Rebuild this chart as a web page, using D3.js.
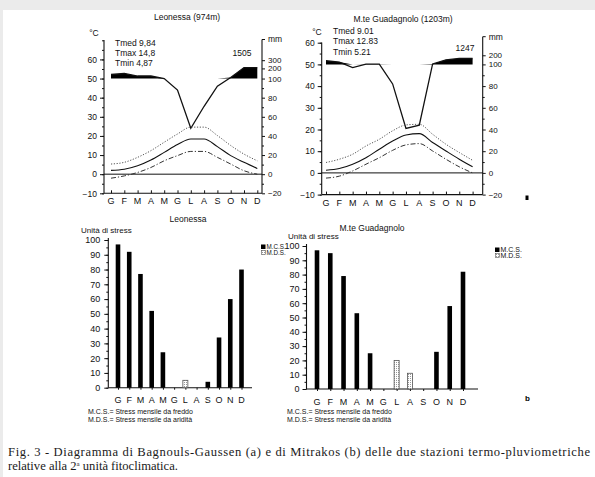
<!doctype html>
<html>
<head>
<meta charset="utf-8">
<title>Fig. 3 - Bagnouls-Gaussen e Mitrakos</title>
<style>
    body { margin: 0; padding: 0; background: #fff; }
    svg { display: block; font-family: "Liberation Sans", Arial, sans-serif; }
    .tick text { font-size: 8.5px; fill: #111; }
    .tick line { stroke: #111; }
    .small { font-size: 8.5px; fill: #111; }
    .mon { font-size: 9px; fill: #111; text-anchor: middle; }
    .bmon { font-size: 9px; fill: #111; text-anchor: middle; }
    .leg { font-size: 7px; fill: #111; }
    .caption { font-family: "Liberation Serif", "Times New Roman", serif; font-size: 12.6px; fill: #1a1a1a; }
</style>
</head>
<body>
<svg id="fig" width="595" height="477"></svg>

<script src="https://d3js.org/d3.v7.min.js"></script>
<script>
// month initials (Italian), used as labels for index 0..11
var monthLabels = ["G", "F", "M", "A", "M", "G", "L", "A", "S", "O", "N", "D"];

// Leonessa (974 m) - temperature (°C) and precipitation (mm)
var tmaxLeo = [5.3, 6.2, 8.8, 12.3, 16.7, 21.0, 24.6, 24.6, 20.2, 15.0, 10.5, 7.0];
var tmedLeo = [2.0, 2.6, 4.4, 7.4, 11.4, 15.5, 18.4, 18.4, 14.4, 9.7, 6.2, 3.0];
var tminLeo = [-2.1, -0.9, 0.9, 3.5, 7.0, 9.7, 11.9, 11.9, 8.8, 5.3, 1.8, 0.0];
var precLeo = [140, 150, 125, 125, 100, 88, 48, 71, 92, 110, 210, 210];

// M.te Guadagnolo (1203 m)
var tmaxGua = [4.8, 6.3, 8.6, 12.4, 15.5, 19.4, 22.1, 22.4, 17.8, 13.2, 9.4, 5.8];
var tmedGua = [1.2, 2.0, 4.0, 7.0, 10.9, 14.7, 17.5, 18.1, 14.0, 10.1, 6.3, 2.8];
var tminGua = [-2.4, -1.5, 0.9, 4.0, 7.0, 10.4, 12.9, 13.5, 10.1, 6.3, 2.8, 0.0];
var precGua = [140, 125, 97, 102, 103, 82, 41, 44, 105, 150, 165, 165];

// Mitrakos stress units (M.C.S. = cold, M.D.S. = drought)
var mcsLeo = [97, 92, 77, 52, 24, 0, 0, 0, 4, 34, 60, 80];
var mdsLeo = [0, 0, 0, 0, 0, 0, 5, 0, 0, 0, 0, 0];
var mcsGua = [97, 95, 79, 53, 25, 0, 0, 0, 0, 26, 58, 82];
var mdsGua = [0, 0, 0, 0, 0, 0, 20, 11, 0, 0, 0, 0];

var tempTicks = [-10, 0, 10, 20, 30, 40, 50, 60];
var precTicksLeo = [-20, 0, 20, 40, 60, 80, 100, 200, 300];
var precTicksGua = [-20, 0, 20, 40, 60, 80, 100, 200];
var stressTicks = [0, 10, 20, 30, 40, 50, 60, 70, 80, 90, 100];

var svg = d3.select("#fig");

// grey edge of the scanned page
svg.append("rect").attr("x", 0).attr("y", 0).attr("width", 595).attr("height", 10).attr("fill", "#ebebeb");
svg.append("rect").attr("x", 0).attr("y", 0).attr("width", 3).attr("height", 477).attr("fill", "#ebebeb");

var defs = svg.append("defs");
var pat = defs.append("pattern").attr("id", "mdsfill")
    .attr("width", 2).attr("height", 2).attr("patternUnits", "userSpaceOnUse");
pat.append("rect").attr("width", 2).attr("height", 2).attr("fill", "#fff");
pat.append("rect").attr("width", 1).attr("height", 1).attr("fill", "#999");

function noDomain(g) { g.select(".domain").remove(); }

// Bagnouls-Gaussen diagram
function climate(c) {
    var x = d3.scalePoint().domain(d3.range(12)).range([c.x0, c.x1]);
    var y = d3.scaleLinear().domain([-10, c.tTop]).range([c.yBot, c.yTop]);
    // mm scale: 2 mm per °C up to 100 mm, compressed above
    var yp = d3.scaleLinear()
        .domain([-20, 0].concat(c.pBreaks))
        .range([y(-10), y(0)].concat(c.pAt.map(function(t) { return y(t); })));

    var g = svg.append("g");

    g.append("text").attr("class", "small").attr("x", c.titleX).attr("y", c.titleY)
        .attr("dy", "0.35em").attr("text-anchor", "middle").text(c.title);

    // axis lines
    g.append("line").attr("x1", c.ax0).attr("x2", c.ax0).attr("y1", c.lTop).attr("y2", y(-10))
        .attr("stroke", "#111").attr("stroke-width", 1.1);
    g.append("line").attr("x1", c.ax1).attr("x2", c.ax1).attr("y1", c.rTop).attr("y2", y(-10))
        .attr("stroke", "#111").attr("stroke-width", 1.1);
    g.append("line").attr("x1", c.ax0).attr("x2", c.ax1).attr("y1", y(-10)).attr("y2", y(-10))
        .attr("stroke", "#111").attr("stroke-width", 1.1);
    g.append("line").attr("x1", c.ax0).attr("x2", c.ax1).attr("y1", y(0)).attr("y2", y(0))
        .attr("stroke", "#111").attr("stroke-width", 1);

    // left axis (°C)
    g.append("g").attr("transform", "translate(" + c.ax0 + ",0)")
        .call(d3.axisLeft(y).tickValues(tempTicks).tickSize(4).tickPadding(3))
        .call(noDomain);
    g.append("g").attr("transform", "translate(" + c.ax0 + ",0)")
        .call(d3.axisLeft(y).tickValues(d3.range(-10, c.tTop + 1, 5)).tickSize(2).tickFormat(""))
        .call(noDomain);
    g.append("text").attr("class", "small").attr("x", c.degX).attr("y", c.degY)
        .attr("dy", "0.35em").attr("text-anchor", "middle").text("°C");

    // right axis (mm)
    g.append("g").attr("transform", "translate(" + c.ax1 + ",0)")
        .call(d3.axisRight(yp).tickValues(c.pTicks).tickSize(3).tickPadding(3))
        .call(noDomain)
        .selectAll("text").style("font-size", "8px");
    g.append("g").attr("transform", "translate(" + c.ax1 + ",0)")
        .call(d3.axisRight(yp).tickValues(d3.range(-10, 100, 20)).tickSize(2).tickFormat(""))
        .call(noDomain);
    g.append("line").attr("x1", c.ax1).attr("x2", c.ax1 + 3).attr("y1", c.rTop).attr("y2", c.rTop)
        .attr("stroke", "#111");
    g.append("text").attr("class", "small").attr("x", c.ax1 + 6).attr("y", c.rTop)
        .attr("dy", "0.35em").text("mm");

    // month ticks and labels
    g.append("g").attr("transform", "translate(0," + y(-10) + ")")
        .call(d3.axisTop(x).tickSize(3).tickFormat(""))
        .call(noDomain);
    g.selectAll(".mon").data(d3.range(12)).enter().append("text")
        .attr("class", "mon")
        .attr("x", function(i) { return x(i); })
        .attr("y", c.monY).attr("dy", "0.35em")
        .text(function(i) { return monthLabels[i]; });

    // humid period above 100 mm
    var wet = d3.area()
        .x(function(d, i) { return x(i); })
        .y0(yp(100))
        .y1(function(d) { return yp(Math.max(d, 100)); });
    g.append("path").datum(c.prec).attr("d", wet).attr("fill", "#000");

    var pline = d3.line()
        .x(function(d, i) { return x(i); })
        .y(function(d) { return yp(d); });
    g.append("path").datum(c.prec).attr("d", pline)
        .attr("fill", "none").attr("stroke", "#111").attr("stroke-width", 1.3);

    var tline = d3.line().curve(d3.curveMonotoneX)
        .x(function(d, i) { return x(i); })
        .y(function(d) { return y(d); });
    g.append("path").datum(c.tmax).attr("d", tline)
        .attr("fill", "none").attr("stroke", "#555").attr("stroke-width", 1)
        .attr("stroke-dasharray", "1.2,1.6");
    g.append("path").datum(c.tmed).attr("d", tline)
        .attr("fill", "none").attr("stroke", "#111").attr("stroke-width", 1.1);
    g.append("path").datum(c.tmin).attr("d", tline)
        .attr("fill", "none").attr("stroke", "#333").attr("stroke-width", 1)
        .attr("stroke-dasharray", "5,2,1.2,2");

    g.selectAll(".info").data(c.info).enter().append("text")
        .attr("class", "small")
        .attr("x", c.infoX)
        .attr("y", function(d, i) { return c.infoY + i * c.infoStep; })
        .attr("dy", "0.35em")
        .text(function(d) { return d; });
    g.append("text").attr("class", "small").attr("x", c.totX).attr("y", c.totY)
        .attr("dy", "0.35em").attr("text-anchor", "middle").text(c.total);
}

// Mitrakos stress diagram
function stress(c) {
    var x = d3.scalePoint().domain(d3.range(12)).range([c.x0, c.x1]);
    var y = d3.scaleLinear().domain([0, 100]).range([c.yBot, c.yTop]);
    var g = svg.append("g");

    g.append("text").attr("class", "small").attr("x", c.titleX).attr("y", c.titleY)
        .attr("dy", "0.35em").attr("text-anchor", "middle").text(c.title);
    g.append("text").attr("class", "small").attr("x", c.unitX).attr("y", c.unitY)
        .attr("dy", "0.35em").style("font-size", "8px").text("Unità di stress");

    g.append("line").attr("x1", c.ax).attr("x2", c.ax).attr("y1", y(100) - 2).attr("y2", y(0))
        .attr("stroke", "#111").attr("stroke-width", 1.1);
    g.append("line").attr("x1", c.ax).attr("x2", c.axEnd).attr("y1", y(0)).attr("y2", y(0))
        .attr("stroke", "#111").attr("stroke-width", 1.1);

    g.append("g").attr("transform", "translate(" + c.ax + ",0)")
        .call(d3.axisLeft(y).tickValues(stressTicks).tickSize(4).tickPadding(c.tickPad))
        .call(noDomain)
        .selectAll("text").style("font-size", "9px");
    g.append("g").attr("transform", "translate(" + c.ax + ",0)")
        .call(d3.axisLeft(y).tickValues(d3.range(0, 101, 5)).tickSize(2).tickFormat(""))
        .call(noDomain);
    g.append("g").attr("transform", "translate(0," + y(0) + ")")
        .call(d3.axisBottom(x).tickSize(2).tickFormat(""))
        .call(noDomain);

    g.selectAll(".bmon").data(d3.range(12)).enter().append("text")
        .attr("class", "bmon")
        .attr("x", function(i) { return x(i); })
        .attr("y", c.monY).attr("dy", "0.35em")
        .text(function(i) { return monthLabels[i]; });

    g.selectAll(".mcs").data(c.mcs).enter().append("rect")
        .attr("x", function(d, i) { return x(i) - 2.3; })
        .attr("y", function(d) { return y(d); })
        .attr("width", 4.6)
        .attr("height", function(d) { return y(0) - y(d); })
        .attr("fill", "#000");
    g.selectAll(".mds").data(c.mds).enter().append("rect")
        .attr("x", function(d, i) { return x(i) - 2.5; })
        .attr("y", function(d) { return y(d); })
        .attr("width", 5)
        .attr("height", function(d) { return y(0) - y(d); })
        .attr("fill", "url(#mdsfill)")
        .attr("stroke", function(d) { return d > 0 ? "#555" : "none"; })
        .attr("stroke-width", 0.8);

    // legend
    g.append("rect").attr("x", c.legX).attr("y", c.legY - 2.5).attr("width", 4.5).attr("height", 4.5).attr("fill", "#000");
    g.append("text").attr("class", "leg").attr("x", c.legX + 5.5).attr("y", c.legY).attr("dy", "0.35em")
        .style("font-size", c.legFont).text("M.C.S.");
    g.append("rect").attr("x", c.legX + 0.5).attr("y", c.legY + 3.5).attr("width", 3.8).attr("height", 3.8)
        .attr("fill", "url(#mdsfill)").attr("stroke", "#555").attr("stroke-width", 0.6);
    g.append("text").attr("class", "leg").attr("x", c.legX + 5.5).attr("y", c.legY + 5.8).attr("dy", "0.35em")
        .style("font-size", c.legFont).text("M.D.S.");

    g.append("text").attr("class", "leg").attr("x", c.footX).attr("y", 412).attr("dy", "0.35em")
        .text("M.C.S.= Stress mensile da freddo");
    g.append("text").attr("class", "leg").attr("x", c.footX).attr("y", 420).attr("dy", "0.35em")
        .text("M.D.S.= Stress mensile da aridità");
}

climate({
    title: "Leonessa (974m)", titleX: 187, titleY: 17,
    x0: 111, x1: 257.3, ax0: 104, ax1: 262,
    tTop: 70, yBot: 193.3, yTop: 40.3, lTop: 40, rTop: 39.5,
    pBreaks: [100, 200, 300], pAt: [50, 55.3, 59.6], pTicks: precTicksLeo,
    degX: 94, degY: 33, monY: 201,
    tmax: tmaxLeo, tmed: tmedLeo, tmin: tminLeo, prec: precLeo,
    info: ["Tmed 9,84", "Tmax 14,8", "Tmin 4,87"], infoX: 115, infoY: 43, infoStep: 10,
    total: "1505", totX: 242, totY: 53
});

climate({
    title: "M.te Guadagnolo (1203m)", titleX: 403, titleY: 19,
    x0: 326, x1: 472.6, ax0: 321.7, ax1: 482.7,
    tTop: 60, yBot: 194.6, yTop: 42.7, lTop: 42.5, rTop: 36.7,
    pBreaks: [100, 200], pAt: [50, 54.2], pTicks: precTicksGua,
    degX: 317, degY: 32, monY: 203,
    tmax: tmaxGua, tmed: tmedGua, tmin: tminGua, prec: precGua,
    info: ["Tmed 9.01", "Tmax 12.83", "Tmin 5.21"], infoX: 333, infoY: 31, infoStep: 10.3,
    total: "1247", totX: 465, totY: 48
});

// "a" mark of the upper panel
svg.append("rect").attr("x", 525.5).attr("y", 195.5).attr("width", 3).attr("height", 4.5).attr("fill", "#000");

stress({
    title: "Leonessa", titleX: 188, titleY: 219,
    unitX: 81, unitY: 230,
    x0: 118, x1: 241.5, ax: 108.3, axEnd: 252, tickPad: 4,
    yBot: 387.7, yTop: 240, monY: 400,
    mcs: mcsLeo, mds: mdsLeo,
    legX: 261, legY: 247, legFont: "6.3px", footX: 88
});

stress({
    title: "M.te Guadagnolo", titleX: 372, titleY: 228,
    unitX: 288, unitY: 236.5,
    x0: 317, x1: 463, ax: 306.5, axEnd: 478, tickPad: 3,
    yBot: 389, yTop: 246, monY: 401.5,
    mcs: mcsGua, mds: mdsGua,
    legX: 495, legY: 250, legFont: "7px", footX: 287
});

svg.append("text").attr("x", 525).attr("y", 398).attr("dy", "0.35em")
    .style("font-size", "8px").style("font-weight", "bold").text("b");

// caption
svg.append("text").attr("class", "caption").attr("x", 8).attr("y", 456)
    .attr("textLength", 582).attr("lengthAdjust", "spacing")
    .text("Fig. 3 - Diagramma di Bagnouls-Gaussen (a) e di Mitrakos (b) delle due stazioni  termo-pluviometriche");
var cap2 = svg.append("text").attr("class", "caption").attr("x", 8).attr("y", 469.5);
cap2.append("tspan").text("relative alla 2");
cap2.append("tspan").attr("dy", -4).style("font-size", "7px").text("a");
cap2.append("tspan").attr("dy", 4).text(" unità fitoclimatica.");
</script>
</body>
</html>
